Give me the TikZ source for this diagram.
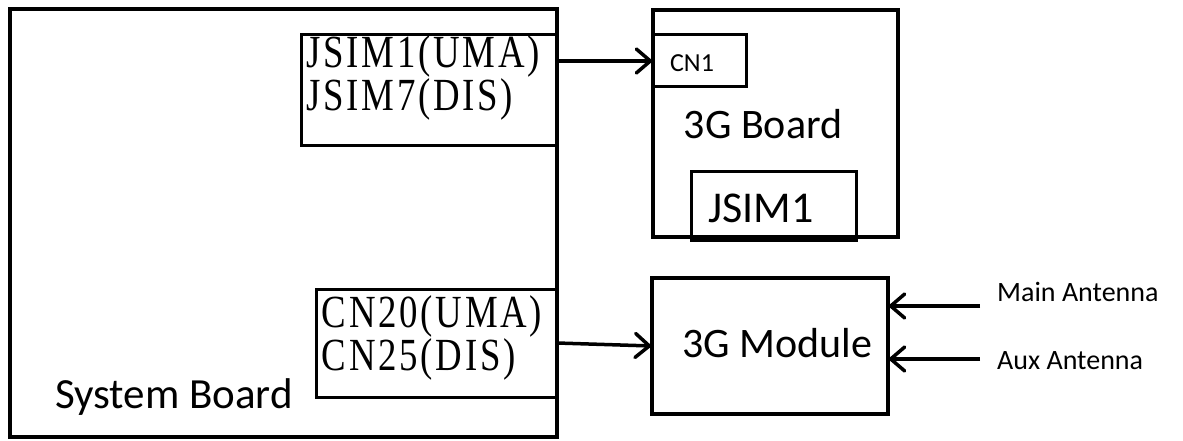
\documentclass[tikz,border=0pt]{standalone}
\usepackage{fontspec}
\setmainfont{Carlito}
\newfontfamily\simfont[FakeStretch=0.8,LetterSpace=6]{Liberation Serif}
\usetikzlibrary{arrows.meta}
\begin{document}
\begin{tikzpicture}[x=1pt,y=-1pt,
  bigbox/.style={draw, line width=4pt, inner sep=0pt, outer sep=0pt},
  smallbox/.style={draw, line width=3pt, inner sep=0pt, outer sep=0pt},
  sim/.style={font=\simfont\fontsize{46}{40}\selectfont, inner sep=0pt},
  conn/.style={line width=3.5pt, -{Straight Barb[length=14pt,width=24pt,line cap=round]}}]
\useasboundingbox[fill=white] (0,0) rectangle (1183,441);
% System board
\node[bigbox, minimum width=547pt, minimum height=428pt] (sys) at (283.5,223) {};
\node[font=\fontsize{43}{50}\selectfont, anchor=base west, inner sep=0pt] (systxt) at (55,408) {System Board};
\node[smallbox, minimum width=256pt, minimum height=111pt] (jsim) at (429,90.5) {};
\node[sim, align=left] (jsimtxt) at (423,78) {JSIM1(UMA)\\JSIM7(DIS)};
\node[smallbox, minimum width=241pt, minimum height=108pt] (cn) at (436.5,343) {};
\node[sim, align=left] (cntxt) at (432,338) {CN20(UMA)\\CN25(DIS)};
% 3G board
\node[bigbox, minimum width=245pt, minimum height=227pt] (board) at (775.5,123.5) {};
\node[smallbox, minimum width=93pt, minimum height=52pt] (cn1) at (699.5,61) {};
\node[font=\fontsize{26}{30}\selectfont, inner sep=0pt] (cn1txt) at (692,63) {CN1};
\node[font=\fontsize{42}{50}\selectfont, anchor=base, inner sep=0pt] (boardtxt) at (763,139) {3G Board};
\node[smallbox, minimum width=165pt, minimum height=69pt] (jsim1) at (773.5,205.5) {};
\node[font=\fontsize{44}{52}\selectfont, anchor=base, inner sep=0pt] (jsim1txt) at (761,222) {JSIM1};
% 3G module
\node[bigbox, minimum width=236pt, minimum height=136pt] (module) at (770,346) {};
\node[font=\fontsize{42}{50}\selectfont, anchor=base, inner sep=0pt] (modtxt) at (777,357) {3G Module};
\coordinate (mainsrc) at (980,306);
\coordinate (auxsrc) at (980,359);
\node[font=\fontsize{28}{32}\selectfont, anchor=base west, inner sep=0pt] (maintxt) at (997,301) {Main Antenna};
\node[font=\fontsize{28}{32}\selectfont, anchor=base west, inner sep=0pt] (auxtxt) at (997,369) {Aux Antenna};
% connectors
\draw[conn] (jsim.east |- cn1.west) -- (cn1.west);
\draw[conn] (cn.east) -- (module.west);
\draw[conn] (mainsrc) -- (module.east |- mainsrc);
\draw[conn] (auxsrc) -- (module.east |- auxsrc);
\end{tikzpicture}
\end{document}
